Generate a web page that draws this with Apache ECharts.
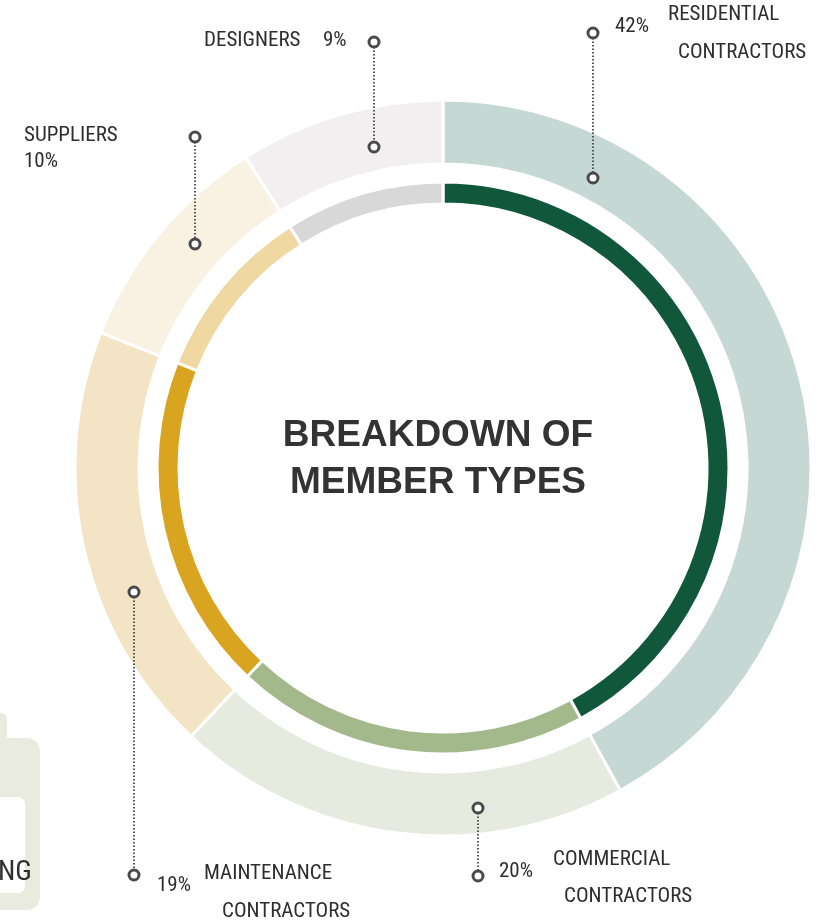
<!DOCTYPE html>
<html>
<head>
<meta charset="utf-8">
<script src="https://cdn.jsdelivr.net/npm/echarts@6/dist/echarts.min.js"></script>
<style>
html,body{margin:0;padding:0;background:#fff;}
#chart{width:836px;height:923px;}
</style>
</head>
<body>
<div id="chart"></div>
<script>
const categories = ['RESIDENTIAL CONTRACTORS', 'COMMERCIAL CONTRACTORS', 'MAINTENANCE CONTRACTORS', 'SUPPLIERS', 'DESIGNERS'];
const values = [42, 20, 19, 10, 9];
const outerColors = ['#c6d8d3', '#e7ebdf', '#f3e4c5', '#f9f2e3', '#f1eff0'];
const innerColors = ['#10573b', '#a3b98b', '#d9a41f', '#f0d8a2', '#d9d8d8'];
const title = ['BREAKDOWN OF', 'MEMBER TYPES'];

const chart = echarts.init(document.getElementById('chart'), null, {renderer: 'canvas'});
const CX = 443, CY = 468;
const narrow = '"Liberation Sans Narrow", "Roboto Condensed", "DejaVu Sans Condensed", "Liberation Sans", sans-serif';

function mkData(colors) {
  return categories.map((c, i) => ({name: c, value: values[i], itemStyle: {color: colors[i]}}));
}

// leader markers: [x, yTop, yBottom]
const leaders = [
  [593, 33, 178],   // residential
  [478, 808, 876],  // commercial
  [134, 592, 875],  // maintenance
  [195, 137, 244],  // suppliers
  [374, 42, 147]    // designers
];

const graphics = [];
// background partial shape bottom-left
graphics.push({type:'rect', shape:{x:-20, y:713, width:27, height:40, r:6}, style:{fill:'#e9ebdf'}, z:1});
graphics.push({type:'rect', shape:{x:-20, y:738, width:60, height:172, r:13}, style:{fill:'#e9ebdf'}, z:1});
graphics.push({type:'rect', shape:{x:-20, y:797, width:45, height:96, r:7}, style:{fill:'#ffffff'}, z:2});
graphics.push({type:'text', x:-2, y:873, style:{text:'NG', fill:'#2e2e2e', font:'28px ' + narrow, textVerticalAlign:'middle', textAlign:'left'}, z:3});

leaders.forEach(l => {
  graphics.push({type:'line', shape:{x1:l[0], y1:l[1]+5, x2:l[0], y2:l[2]-5}, style:{stroke:'#555', lineWidth:2, lineDash:[1.5,2]}, z:10});
  [l[1], l[2]].forEach(y => graphics.push({type:'circle', shape:{cx:l[0], cy:y, r:5}, style:{fill:'#fff', stroke:'#4a4a4a', lineWidth:3}, z:11}));
});

function txt(x, y, t, align, size) {
  graphics.push({type:'text', x:x, y:y, style:{text:t, fill:'#2e2e2e', font:(size||21) + 'px ' + narrow, textAlign:align||'left', textVerticalAlign:'middle'}, z:12});
}
const pct = values.map(v => v + '%');
const splitName = categories.map(c => c.split(' '));
// residential
txt(615, 27, pct[0]);
txt(668, 15, splitName[0][0]);
txt(678, 53, splitName[0][1]);
// commercial
txt(499, 872, pct[1]);
txt(553, 860, splitName[1][0]);
txt(564, 897, splitName[1][1]);
// maintenance
txt(157, 886, pct[2]);
txt(204, 874, splitName[2][0]);
txt(222, 912, splitName[2][1]);
// suppliers
txt(24, 136, splitName[3][0]);
txt(24, 162, pct[3]);
// designers
txt(204, 41, splitName[4][0]);
txt(323, 41, pct[4]);

// title
const titleFont = 'bold 37px "Liberation Sans", Arial, sans-serif';
graphics.push({type:'text', x:438, y:436, style:{text:title[0], fill:'#333', font:titleFont, textAlign:'center', textVerticalAlign:'middle'}, z:12});
graphics.push({type:'text', x:438, y:483, style:{text:title[1], fill:'#333', font:titleFont, textAlign:'center', textVerticalAlign:'middle'}, z:12});

chart.setOption({
  animation: false,
  backgroundColor: '#ffffff',
  series: [
    {
      type: 'pie', center: [CX, CY], radius: [304, 368], startAngle: 90, clockwise: true,
      label: {show:false}, labelLine: {show:false}, silent: true,
      itemStyle: {borderColor:'#ffffff', borderWidth:3},
      data: mkData(outerColors), z: 2
    },
    {
      type: 'pie', center: [CX, CY], radius: [264, 286], startAngle: 90, clockwise: true,
      label: {show:false}, labelLine: {show:false}, silent: true,
      itemStyle: {borderColor:'#ffffff', borderWidth:3},
      data: mkData(innerColors), z: 2
    }
  ],
  graphic: graphics
});
</script>
</body>
</html>
